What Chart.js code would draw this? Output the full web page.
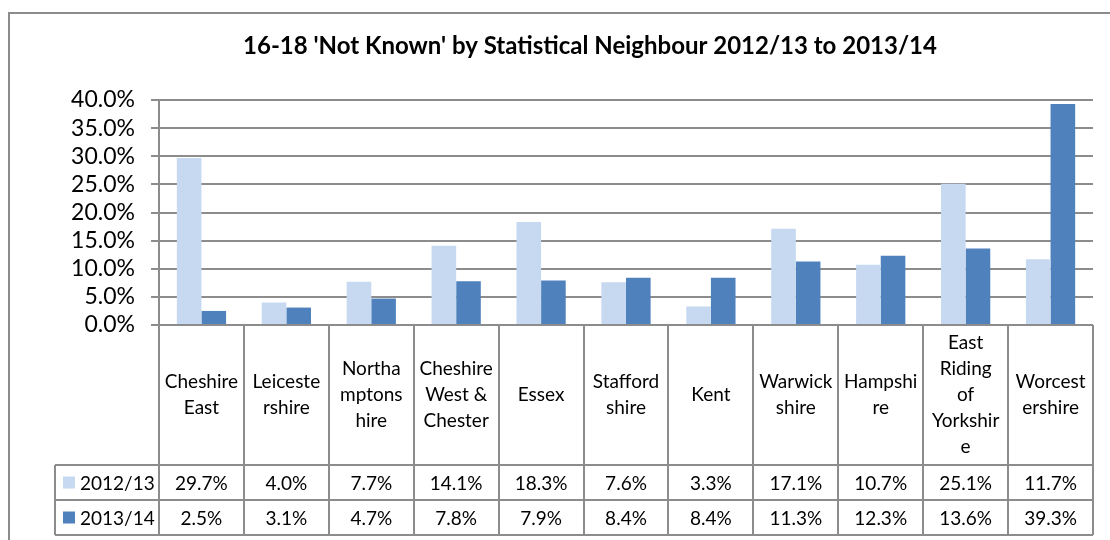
<!DOCTYPE html>
<html lang="en">
<head>
    <meta charset="UTF-8">
    <title>16-18 'Not Known' by Statistical Neighbour</title>
    <script src="https://cdn.jsdelivr.net/npm/chart.js@4.4.0/dist/chart.umd.min.js"></script>
    <style>
        body {
            margin: 0;
            background: #ffffff;
        }
        #wrap {
            width: 1110px;
            height: 540px;
            position: relative;
        }
    </style>
</head>
<body>
    <div id="wrap"><canvas id="chart"></canvas></div>

    <script>
        const FONT = "Lato, 'Open Sans', sans-serif";
        const chartTitle = "16-18 'Not Known' by Statistical Neighbour 2012/13 to 2013/14";

        // categories, with the line breaks the original table used
        const categories = [
            ['Cheshire', 'East'],
            ['Leiceste', 'rshire'],
            ['Northa', 'mptons', 'hire'],
            ['Cheshire', 'West &', 'Chester'],
            ['Essex'],
            ['Stafford', 'shire'],
            ['Kent'],
            ['Warwick', 'shire'],
            ['Hampshi', 're'],
            ['East', 'Riding', 'of', 'Yorkshir', 'e'],
            ['Worcest', 'ershire']
        ];
        const seriesNames = ['2012/13', '2013/14'];
        const values2012 = [29.7, 4.0, 7.7, 14.1, 18.3, 7.6, 3.3, 17.1, 10.7, 25.1, 11.7];
        const values2013 = [2.5, 3.1, 4.7, 7.8, 7.9, 8.4, 8.4, 11.3, 12.3, 13.6, 39.3];
        const colors = ['#C6D9F1', '#4F81BD'];
        const lineColor = '#8C8C8C';

        // data table under the plot, plus the outer frame and title
        const tablePlugin = {
            id: 'dataTable',
            beforeDraw(chart) {
                const ctx = chart.ctx;
                ctx.save();
                ctx.fillStyle = '#ffffff';
                ctx.fillRect(0, 0, chart.width, chart.height);
                ctx.strokeStyle = lineColor;
                ctx.lineWidth = 2;
                ctx.strokeRect(9, 13, 1200, 600);
                ctx.fillStyle = '#000000';
                ctx.font = 'bold 24px ' + FONT;
                ctx.textAlign = 'center';
                ctx.textBaseline = 'middle';
                ctx.fillText(chartTitle, 590, 46);
                ctx.restore();
            },
            afterDraw(chart) {
                const ctx = chart.ctx;
                const x = chart.scales.x;
                const area = chart.chartArea;
                const top = area.bottom;
                const headBottom = top + 140;
                const rowH = 35;
                const bottom = headBottom + rowH * 2;
                const legendLeft = 55;
                const step = x.getPixelForValue(1) - x.getPixelForValue(0);
                const series = [values2012, values2013];

                ctx.save();
                ctx.strokeStyle = lineColor;
                ctx.lineWidth = 2;
                ctx.beginPath();
                // horizontal lines
                ctx.moveTo(legendLeft, headBottom); ctx.lineTo(area.right, headBottom);
                ctx.moveTo(legendLeft, headBottom + rowH); ctx.lineTo(area.right, headBottom + rowH);
                ctx.moveTo(legendLeft, bottom); ctx.lineTo(area.right, bottom);
                // vertical lines
                ctx.moveTo(legendLeft, headBottom); ctx.lineTo(legendLeft, bottom);
                for (let i = 0; i <= categories.length; i++) {
                    const px = Math.round(x.getPixelForValue(i) - step / 2);
                    ctx.moveTo(px, top); ctx.lineTo(px, bottom);
                }
                ctx.stroke();

                ctx.fillStyle = '#000000';
                ctx.textAlign = 'center';
                ctx.textBaseline = 'middle';
                ctx.font = '19px ' + FONT;
                const lh = 26;
                categories.forEach((lines, i) => {
                    const cx = x.getPixelForValue(i);
                    const cy = (top + headBottom) / 2 - (lines.length - 1) * lh / 2;
                    lines.forEach((t, j) => ctx.fillText(t, cx, cy + j * lh));
                    series.forEach((vals, s) => {
                        ctx.fillText(vals[i].toFixed(1) + '%', cx, headBottom + rowH * s + rowH / 2 + 1);
                    });
                });

                // legend keys
                ctx.textAlign = 'left';
                seriesNames.forEach((name, s) => {
                    const cy = headBottom + rowH * s + rowH / 2;
                    ctx.fillStyle = colors[s];
                    ctx.fillRect(63, cy - 6, 12, 12);
                    ctx.fillStyle = '#000000';
                    ctx.fillText(name, 80, cy + 1);
                });
                ctx.restore();
            }
        };

        new Chart(document.getElementById('chart'), {
            type: 'bar',
            data: {
                labels: categories.map(c => c.join('')),
                datasets: [
                    { label: seriesNames[0], data: values2012, backgroundColor: colors[0] },
                    { label: seriesNames[1], data: values2013, backgroundColor: colors[1] }
                ]
            },
            options: {
                responsive: true,
                maintainAspectRatio: false,
                animation: false,
                categoryPercentage: 0.58,
                barPercentage: 1.0,
                layout: { padding: { top: 100, right: 17, bottom: 5, left: 0 } },
                plugins: {
                    legend: { display: false },
                    title: { display: false },
                    tooltip: { enabled: false }
                },
                scales: {
                    x: {
                        ticks: { display: false },
                        grid: { display: false },
                        border: { display: false },
                        afterFit(scale) { scale.height = 210; }
                    },
                    y: {
                        min: 0,
                        max: 40,
                        ticks: {
                            stepSize: 5,
                            autoSkip: false,
                            color: '#000000',
                            padding: 16,
                            font: { family: FONT, size: 23 },
                            callback: v => v.toFixed(1) + '%'
                        },
                        grid: { color: lineColor, lineWidth: 2, tickLength: 8 },
                        border: { color: lineColor, width: 2 },
                        afterFit(scale) { scale.width = 159; }
                    }
                }
            },
            plugins: [tablePlugin]
        });
    </script>
</body>
</html>
